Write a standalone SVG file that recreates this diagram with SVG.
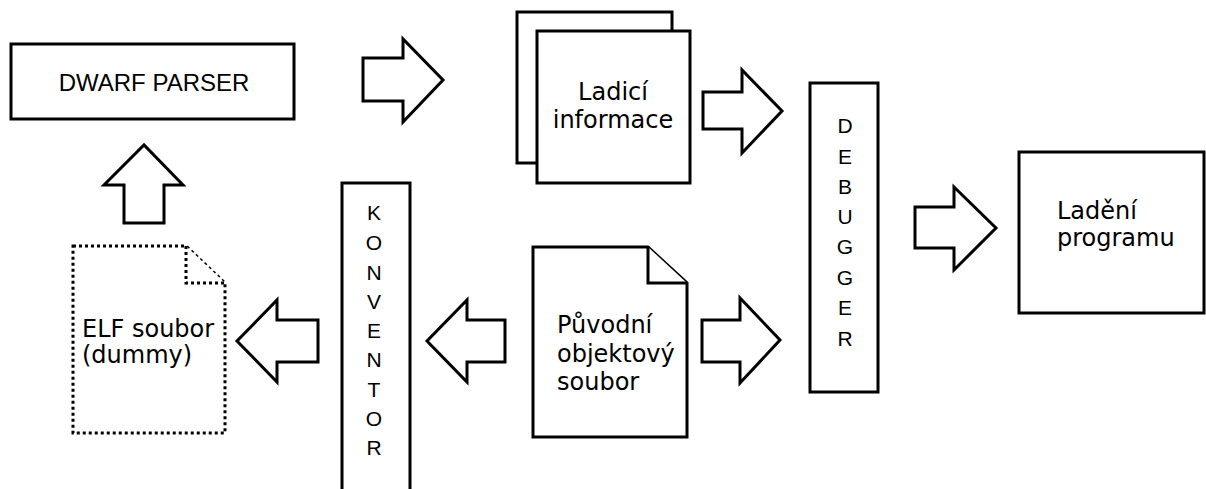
<svg xmlns="http://www.w3.org/2000/svg" width="1206" height="489" viewBox="0 0 1206 489">
<style>
.box{fill:#fff;stroke:#000;stroke-width:3}
.dot{fill:#fff;stroke:#000;stroke-width:3;stroke-dasharray:3 3}
.arr{fill:#fff;stroke:#000;stroke-width:3;stroke-linejoin:miter}
.t{font-family:"DejaVu Sans",Verdana,sans-serif;font-size:24px;fill:#000}
.s{font-family:"Liberation Sans",Arial,sans-serif;fill:#000;text-anchor:middle}
</style>
<rect width="1206" height="489" fill="#fff"/>
<g id="dwarf-parser">
<rect class="box" x="11" y="44" width="283" height="75"/>
<text class="s" x="154" y="91" font-size="24">DWARF PARSER</text>
</g>
<g id="ladici-informace">
<rect class="box" x="517" y="12" width="155" height="151"/>
<rect class="box" x="537" y="31" width="153" height="152"/>
<text class="t" x="613" y="100" text-anchor="middle">Ladicí</text>
<text class="t" x="613" y="128" text-anchor="middle">informace</text>
</g>
<g id="debugger">
<rect class="box" x="810" y="83" width="68" height="309"/>
<text class="s" font-size="21"><tspan x="845" y="133">D</tspan><tspan x="845" y="164">E</tspan><tspan x="845" y="194">B</tspan><tspan x="845" y="224">U</tspan><tspan x="845" y="254">G</tspan><tspan x="845" y="285">G</tspan><tspan x="845" y="315">E</tspan><tspan x="845" y="346">R</tspan></text>
</g>
<g id="ladeni-programu">
<rect class="box" x="1019" y="152" width="185" height="161"/>
<text class="t" x="1057" y="219">Ladění</text>
<text class="t" x="1057" y="246">programu</text>
</g>
<g id="konventor">
<rect class="box" x="342" y="183" width="68" height="320"/>
<text class="s" font-size="21"><tspan x="374" y="220">K</tspan><tspan x="374" y="250">O</tspan><tspan x="374" y="280">N</tspan><tspan x="374" y="309">V</tspan><tspan x="374" y="338">E</tspan><tspan x="374" y="367">N</tspan><tspan x="374" y="397">T</tspan><tspan x="374" y="426">O</tspan><tspan x="374" y="455">R</tspan></text>
</g>
<g id="puvodni-objektovy-soubor">
<path class="box" d="M533,247 H648 L687,283 V437 H533 Z"/>
<path class="box" d="M648,247 V283 H687"/>
<text class="t" x="557" y="333">Původní</text>
<text class="t" x="557" y="362">objektový</text>
<text class="t" x="557" y="390">soubor</text>
</g>
<g id="elf-soubor">
<path class="dot" d="M73,246 H186 L225,283 V433 H73 Z"/>
<path class="dot" d="M186,246 V283 H225"/>
<text class="t" x="82" y="337">ELF soubor</text>
<text class="t" x="82" y="363">(dummy)</text>
</g>
<g id="connectors">
<polygon class="arr" points="363,58 403,58 403,39 443,80 403,122 403,101 363,101"/>
<polygon class="arr" points="703,92 742,92 742,70 782,111 742,153 742,129 703,129"/>
<polygon class="arr" points="702,320 740,320 740,298 780,340 740,383 740,362 702,362"/>
<polygon class="arr" points="915,207 954,207 954,187 996,228 954,270 954,248 915,248"/>
<polygon class="arr" points="505,320 467,320 467,300 427,341 467,382 467,362 505,362"/>
<polygon class="arr" points="318,320 277,320 277,300 237,341 277,382 277,362 318,362"/>
<polygon class="arr" points="124,223 124,185 104,185 144,145 183,185 164,185 164,223"/>
</g>
</svg>
